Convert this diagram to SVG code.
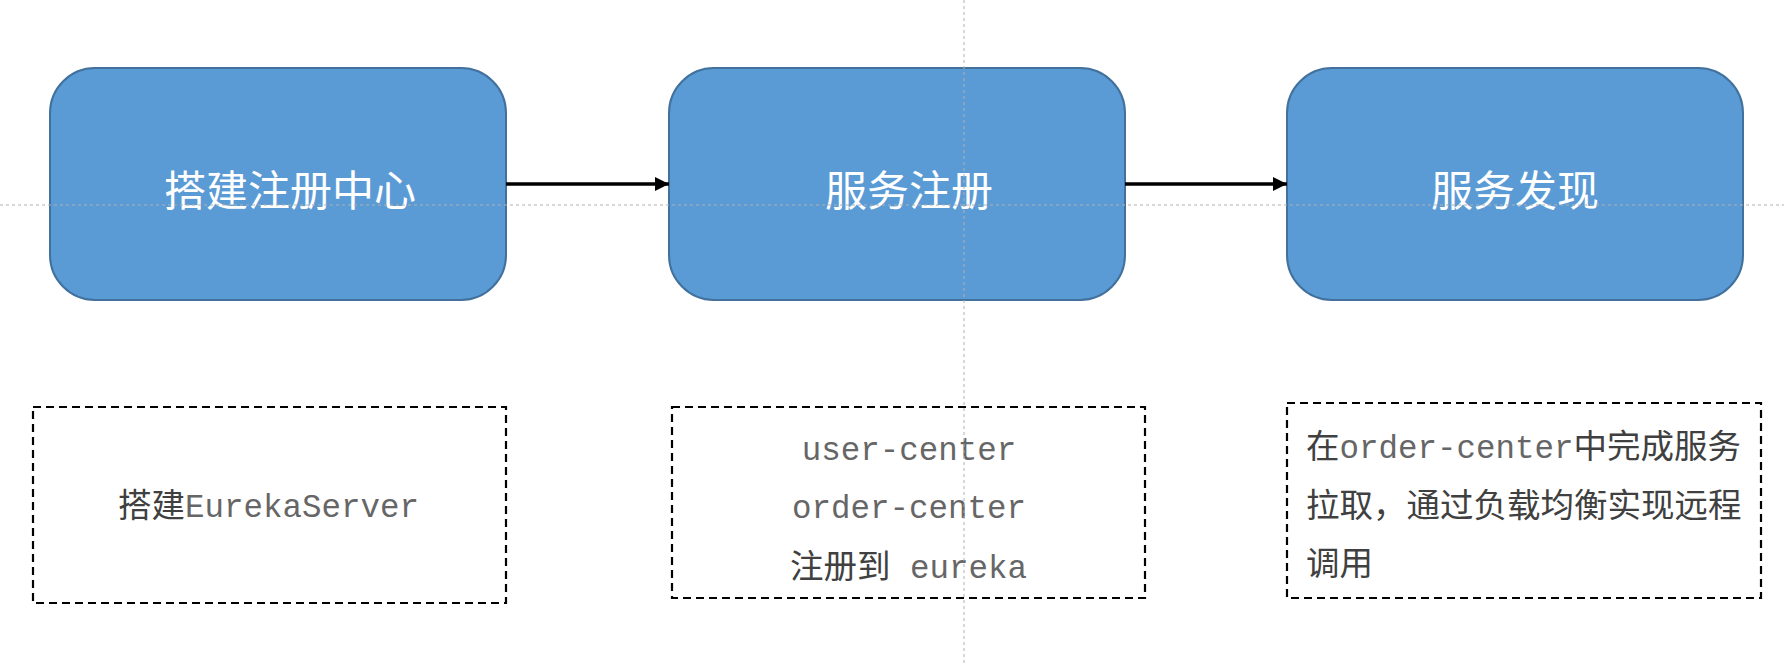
<svg xmlns="http://www.w3.org/2000/svg" width="1784" height="665" viewBox="0 0 1784 665">
<style>
.node{fill:#5B9BD5;stroke:#41719C;stroke-width:2}
.title{font-family:"Noto Sans CJK SC","Noto Sans",sans-serif;font-size:42px;fill:#ffffff;text-anchor:middle}
.note{fill:none;stroke:#000;stroke-width:2.2;stroke-dasharray:8 5}
.cjk{font-family:"Noto Sans CJK SC",sans-serif;font-size:33.5px;fill:#404040}
.mono{font-family:"Liberation Mono","Noto Sans CJK SC",monospace;font-size:32.5px;fill:#666666}
.conn{stroke:#000;stroke-width:3.5;fill:none}
.guide{stroke:#b0b0b0;stroke-width:1;stroke-dasharray:3 3;fill:none}
</style>
<defs>
<marker id="arr" viewBox="0 0 14 14" refX="14" refY="7" markerWidth="14" markerHeight="14" markerUnits="userSpaceOnUse" orient="auto">
<path d="M0,0 L14,7 L0,14 z" fill="#000"/>
</marker>
</defs>
<rect width="1784" height="665" fill="#fff"/>
<g id="node-registry">
<rect class="node" x="50" y="68" width="456" height="232" rx="45"/>
<text class="title" x="290" y="206">搭建注册中心</text>
</g>
<g id="node-register">
<rect class="node" x="669" y="68" width="456" height="232" rx="45"/>
<text class="title" x="909" y="206">服务注册</text>
</g>
<g id="node-discovery">
<rect class="node" x="1287" y="68" width="456" height="232" rx="45"/>
<text class="title" x="1515" y="206">服务发现</text>
</g>
<g id="connectors">
<line class="conn" x1="506" y1="184" x2="669" y2="184" marker-end="url(#arr)"/>
<line class="conn" x1="1125" y1="184" x2="1287" y2="184" marker-end="url(#arr)"/>
</g>
<g id="note-registry">
<rect class="note" x="33" y="407" width="473" height="196"/>
<text x="118" y="517"><tspan class="cjk">搭建</tspan><tspan class="mono">EurekaServer</tspan></text>
</g>
<g id="note-register">
<rect class="note" x="672" y="407" width="473" height="191"/>
<text class="mono" x="909" y="460" text-anchor="middle">user-center</text>
<text class="mono" x="909" y="518" text-anchor="middle">order-center</text>
<text x="790" y="578"><tspan class="cjk">注册到</tspan><tspan class="mono"> eureka</tspan></text>
</g>
<g id="note-discovery">
<rect class="note" x="1287" y="403" width="474" height="195"/>
<text x="1306" y="458"><tspan class="cjk">在</tspan><tspan class="mono">order-center</tspan><tspan class="cjk">中完成服务</tspan></text>
<text class="cjk" x="1306" y="517">拉取，通过负载均衡实现远程</text>
<text class="cjk" x="1306" y="575">调用</text>
</g>
<g id="guides">
<line class="guide" x1="964" y1="0" x2="964" y2="665"/>
<line class="guide" x1="0" y1="205" x2="1784" y2="205"/>
</g>
</svg>
